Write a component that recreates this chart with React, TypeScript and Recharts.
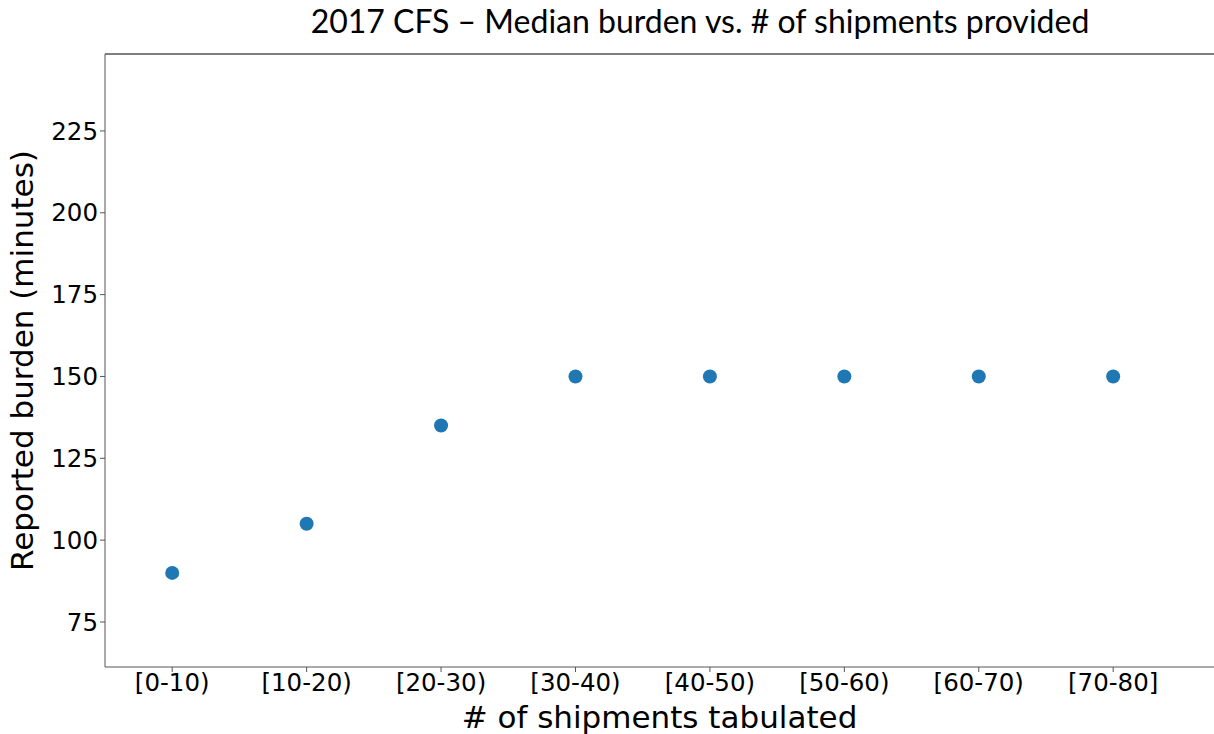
import { ScatterChart, Scatter, XAxis, YAxis, ReferenceLine } from "recharts";

const categories = ["[0-10)", "[10-20)", "[20-30)", "[30-40)", "[40-50)", "[50-60)", "[60-70)", "[70-80]"];
const medianBurden = [90, 105, 135, 150, 150, 150, 150, 150];
const yTicks = [75, 100, 125, 150, 175, 200, 225];

const data = categories.map((label, i) => ({ idx: i, label, burden: medianBurden[i] }));

const TICK_FONT = { fill: "#000", fontSize: 24.5, fontFamily: "DejaVu Sans" };
const LABEL_FONT = { fontSize: 31, fontFamily: "DejaVu Sans", fill: "#000" };
const AXIS_COLOR = "#555";

export default function App() {
  return (
    <div
      style={{
        position: "absolute",
        left: 0,
        top: 0,
        width: 1214,
        height: 734,
        background: "#fff",
        fontFamily: "DejaVu Sans",
      }}
    >
      <div
        style={{
          position: "absolute",
          left: 200,
          width: 1000,
          top: 1,
          textAlign: "center",
          fontFamily: "Lato",
          fontSize: 32,
          color: "#000",
          whiteSpace: "nowrap",
        }}
      >
        2017 CFS – Median burden vs. # of shipments provided
      </div>
      <ScatterChart width={1214} height={734} margin={{ top: 54, right: 0, bottom: 0, left: 0 }}>
        <XAxis
          type="number"
          dataKey="idx"
          domain={[-0.5, 7.75]}
          ticks={[0, 1, 2, 3, 4, 5, 6, 7]}
          tickFormatter={(v: number) => categories[v] ?? ""}
          allowDataOverflow
          height={67}
          stroke={AXIS_COLOR}
          tick={TICK_FONT}
          tickSize={5}
          label={{
            value: "# of shipments tabulated",
            position: "insideBottom",
            offset: 6,
            style: LABEL_FONT,
          }}
        />
        <YAxis
          type="number"
          dataKey="burden"
          domain={[61.25, 248.5]}
          ticks={yTicks}
          allowDataOverflow
          width={105}
          stroke={AXIS_COLOR}
          tick={TICK_FONT}
          tickSize={5}
          label={{
            value: "Reported burden (minutes)",
            angle: -90,
            position: "insideLeft",
            offset: 22,
            style: { ...LABEL_FONT, textAnchor: "middle" },
          }}
        />
        <ReferenceLine y={248.5} stroke={AXIS_COLOR} strokeWidth={1.5} />
        <Scatter
          data={data}
          fill="#1f77b4"
          isAnimationActive={false}
          shape={(p: any) => <circle cx={p.cx} cy={p.cy} r={7} fill="#1f77b4" />}
        />
      </ScatterChart>
    </div>
  );
}
